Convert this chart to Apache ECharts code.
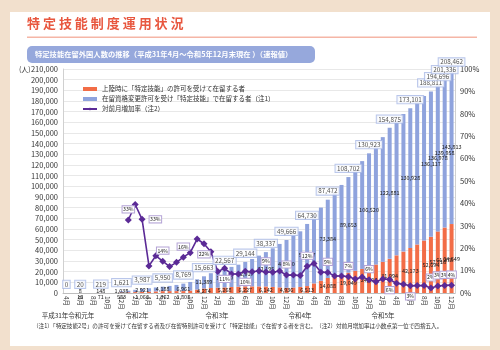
<!DOCTYPE html>
<html><head><meta charset="utf-8">
<script src="https://cdn.jsdelivr.net/npm/echarts@6/dist/echarts.min.js"></script>
<style>
html,body{margin:0;padding:0;width:500px;height:350px;background:#f2e0cd;overflow:hidden}
#panel{position:absolute;left:10px;top:12px;width:480px;height:334px;background:#fff}
#chart{position:absolute;left:0;top:0;width:500px;height:350px}
</style></head><body>
<div id="panel"></div><div id="chart"></div>
<script>
const FONT = '"Noto Sans CJK JP", "Noto Sans", sans-serif';

// Monthly categories: 2019/4 .. 2023/12
const categories = [
  '4月','5月','6月','7月','8月','9月','10月','11月','12月',
  '1月','2月','3月','4月','5月','6月','7月','8月','9月','10月','11月','12月',
  '1月','2月','3月','4月','5月','6月','7月','8月','9月','10月','11月','12月',
  '1月','2月','3月','4月','5月','6月','7月','8月','9月','10月','11月','12月',
  '1月','2月','3月','4月','5月','6月','7月','8月','9月','10月','11月','12月'
];
const yearLabels = ['平成31年令和元年','令和2年','令和3年','令和4年','令和5年'];

// 上陸時に「特定技能」の許可を受けて在留する者
const orangeData = [
  0,'-',12,'-','-',71,'-','-',583,
  700,880,1066,1250,1500,1762,1780,1790,1808,2300,3200,4274,
  4700,5000,5268,5600,5900,6227,6200,6170,6142,5700,5300,4936,
  5200,5700,6513,9000,11500,14088,15700,17400,19049,20800,22600,24403,
  26700,29200,31994,35300,38800,42173,45500,49200,52694,57718,61378,64649
];
// 在留資格変更許可を受け「特定技能」で在留する者
const blueData = [
  0,'-',8,'-','-',148,'-','-',1038,
  1450,2120,2921,3220,3710,4188,4870,5770,6961,8050,9640,11389,
  13850,15330,17299,18890,20670,22917,25710,28870,32195,36200,40700,44730,
  48440,52130,58217,64300,68600,73384,78420,83900,89653,94640,101040,106520,
  110770,116930,122881,126200,129000,130928,133310,135500,136117,136978,139958,143813
];
// 対前月増加率 (%)
const growthRate = [
  '-','-','-','-','-','-','-','-','-',
  32.6,39.5,32.9,12.1,16.6,14.2,11.8,13.7,16.0,18.0,24.1,22.0,
  18.4,9.6,11.0,8.5,8.5,9.7,9.5,9.8,9.4,9.3,9.8,8.0,
  8.0,7.8,11.9,13.2,9.3,9.2,7.6,7.6,7.3,6.2,7.1,5.9,
  5.0,6.3,6.0,4.3,3.9,3.2,3.3,3.3,2.2,3.1,3.4,3.5
];
const barLabelIdx = [0,2,5,8,11,14,17,20,23,26,29,32,35,38,41,44,47,50,53,54,55,56];
const rateLabelIdx = [9,11,14,17,20,23,26,29,32,35,38,41,44,47,50,53,54,55,56];
const rateLabelBelow = [20,23,26,47,50];
const rateLabelRight = [11];

const fmt = v => Number(v).toLocaleString('en-US');
const boxText = (border, size, pad) => ({
  fontSize: size, color: '#222', fontFamily: FONT, backgroundColor: '#fff',
  borderColor: border, borderWidth: 1, padding: pad
});

const orangeSeriesData = orangeData.map((v, i) => {
  if (!barLabelIdx.includes(i) || i === 0) return v;
  const small = i < 20;
  return { value: v, label: { show: true, position: small ? 'insideBottom' : 'inside',
    offset: small ? [0, 7] : [0, 0], distance: 0, formatter: fmt(v),
    fontSize: 5.5, color: '#222', fontFamily: FONT } };
});
const blueSeriesData = blueData.map((v, i) => {
  if (!barLabelIdx.includes(i) || i === 0) return v;
  const small = i < 20;
  return { value: v, label: { show: true, position: small ? 'insideBottom' : 'inside',
    offset: small ? [0, 1] : [0, 0], distance: 0, formatter: fmt(v),
    fontSize: 5.5, color: '#222', fontFamily: FONT } };
});
const totalSeriesData = blueData.map((v, i) => {
  if (!barLabelIdx.includes(i)) return '-';
  return blueData[i] + orangeData[i];
});
const rateSeriesData = growthRate.map((v, i) => {
  if (!rateLabelIdx.includes(i)) return v;
  const pos = rateLabelBelow.includes(i) ? 'bottom' : (rateLabelRight.includes(i) ? 'right' : 'top');
  return { value: v, label: Object.assign({ show: true, position: pos, distance: 4,
    formatter: Math.round(v) + '%' }, boxText('#b4a3d6', 5.2, [0.5, 0.5])) };
});

const chart = echarts.init(document.getElementById('chart'), null, { renderer: 'canvas' });
chart.setOption({
  backgroundColor: 'transparent',
  animation: false,
  textStyle: { fontFamily: FONT },
  grid: { left: 63, right: 45, top: 69, bottom: 57 },
  legend: {
    left: 77, top: 80, orient: 'vertical', itemGap: 2, itemWidth: 14, itemHeight: 4,
    textStyle: { fontSize: 6.5, color: '#333', fontFamily: FONT, lineHeight: 8 },
    data: [
      { name: '上陸時に「特定技能」の許可を受けて在留する者', icon: 'rect' },
      { name: '在留資格変更許可を受け「特定技能」で在留する者（注1）', icon: 'rect' },
      { name: '対前月増加率（注2）' }
    ]
  },
  xAxis: {
    type: 'category', data: categories, boundaryGap: true,
    axisLine: { lineStyle: { color: '#bdbdbd' } },
    axisTick: { show: false },
    axisLabel: { interval: 1, rotate: -90, fontSize: 6.5, color: '#333', margin: 3, fontFamily: FONT }
  },
  yAxis: [
    { type: 'value', min: 0, max: 210000, interval: 10000,
      axisLine: { show: true, lineStyle: { color: '#d0d0d0' } },
      axisTick: { show: false },
      axisLabel: { fontSize: 7.5, color: '#333', margin: 5, formatter: v => fmt(v), fontFamily: FONT },
      splitLine: { lineStyle: { color: '#e8e8e8' } } },
    { type: 'value', min: 0, max: 100, interval: 10, position: 'right',
      axisLine: { show: true, lineStyle: { color: '#d0d0d0' } },
      axisTick: { show: false },
      axisLabel: { fontSize: 7.5, color: '#333', margin: 5, formatter: '{value}%', fontFamily: FONT },
      splitLine: { show: false } }
  ],
  series: [
    { name: '上陸時に「特定技能」の許可を受けて在留する者', type: 'bar', stack: 'total',
      barWidth: 4, itemStyle: { color: '#f26d47' }, data: orangeSeriesData, z: 2 },
    { name: '在留資格変更許可を受け「特定技能」で在留する者（注1）', type: 'bar', stack: 'total',
      barWidth: 4, itemStyle: { color: '#8fa3dd' }, data: blueSeriesData, z: 2 },
    { name: '対前月増加率（注2）', type: 'line', yAxisIndex: 1, data: rateSeriesData,
      symbol: 'diamond', symbolSize: 7, showAllSymbol: true, connectNulls: false,
      lineStyle: { color: '#5b2a96', width: 1.6 }, itemStyle: { color: '#5b2a96' }, z: 5 },
    { name: 'total', type: 'scatter', data: totalSeriesData, symbolSize: 0, z: 6,
      label: Object.assign({ show: true, position: 'top', distance: 5,
        formatter: p => fmt(p.value) }, boxText('#a9b9e6', 6.3, [0.5, 1.5])) }
  ],
  graphic: [
    { type: 'text', left: 27, top: 17, style: { text: '特 定 技 能 制 度 運 用 状 況',
      fontSize: 13, fontWeight: 'bold', fill: '#e8573f', fontFamily: FONT } },
    { type: 'rect', shape: { x: 27, y: 36.5, width: 450, height: 1.5 }, style: { fill: '#f5b6a6' } },
    { type: 'rect', shape: { x: 27, y: 46, width: 288, height: 17, r: 5 }, style: { fill: '#96a8dc' } },
    { type: 'text', x: 35, y: 54.5, style: { text: '特定技能在留外国人数の推移（平成31年4月～令和5年12月末現在 ）（速報値）',
      fontSize: 7.3, fontWeight: 'bold', fill: '#fff', verticalAlign: 'middle', fontFamily: FONT } },
    { type: 'text', x: 19, y: 69, style: { text: '(人)', fontSize: 7, fill: '#333', verticalAlign: 'middle', fontFamily: FONT } },
    { type: 'text', x: 68, y: 316, style: { text: yearLabels[0], fontSize: 6.5, fill: '#333', align: 'center', verticalAlign: 'middle', fontFamily: FONT } },
    { type: 'text', x: 137, y: 316, style: { text: yearLabels[1], fontSize: 6.5, fill: '#333', align: 'center', verticalAlign: 'middle', fontFamily: FONT } },
    { type: 'text', x: 217, y: 316, style: { text: yearLabels[2], fontSize: 6.5, fill: '#333', align: 'center', verticalAlign: 'middle', fontFamily: FONT } },
    { type: 'text', x: 300, y: 316, style: { text: yearLabels[3], fontSize: 6.5, fill: '#333', align: 'center', verticalAlign: 'middle', fontFamily: FONT } },
    { type: 'text', x: 383, y: 316, style: { text: yearLabels[4], fontSize: 6.5, fill: '#333', align: 'center', verticalAlign: 'middle', fontFamily: FONT } },
    { type: 'text', x: 33, y: 325.5, style: { text: '（注1）「特定技能2号」の許可を受けて在留する者及び在留特別許可を受けて「特定技能」で在留する者を含む。　（注2）対前月増加率は小数点第一位で四捨五入。',
      fontSize: 5.6, fill: '#333', verticalAlign: 'middle', fontFamily: FONT } }
  ]
});
</script>
</body></html>
